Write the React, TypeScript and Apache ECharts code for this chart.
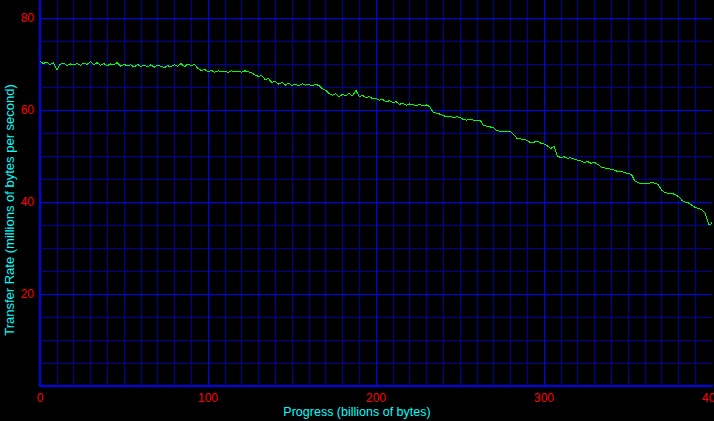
import React, { useEffect, useRef } from "react";
import * as echarts from "echarts";

const progress = [
  0, 2, 4, 6, 8, 10, 12, 14, 16, 18, 20, 22, 24, 26, 28, 30, 32, 34, 36, 38,
  40, 42, 44, 46, 48, 50, 52, 54, 56, 58, 60, 62, 64, 66, 68, 70, 72, 74, 76, 78,
  80, 82, 84, 86, 88, 90, 92, 94, 96, 98, 100, 102, 104, 106, 108, 110, 112, 114, 116, 118,
  120, 122, 124, 126, 128, 130, 132, 134, 136, 138, 140, 142, 144, 146, 148, 150, 152, 154, 156, 158,
  160, 162, 164, 166, 168, 170, 172, 174, 176, 178, 180, 182, 184, 186, 188, 190, 192, 194, 196, 198,
  200, 202, 204, 206, 208, 210, 212, 214, 216, 218, 220, 222, 224, 226, 228, 230, 232, 234, 236, 238,
  240, 242, 244, 246, 248, 250, 252, 254, 256, 258, 260, 262, 264, 266, 268, 270, 272, 274, 276, 278,
  280, 282, 284, 286, 288, 290, 292, 294, 296, 298, 300, 302, 304, 306, 308, 310, 312, 314, 316, 318,
  320, 322, 324, 326, 328, 330, 332, 334, 336, 338, 340, 342, 344, 346, 348, 350, 352, 354, 356, 358,
  360, 362, 364, 366, 368, 370, 372, 374, 376, 378, 380, 382, 384, 386, 388, 390, 392, 394, 396, 397,
  398, 399, 400,
];

const transferRate = [
  70.5, 70.1, 70.4, 69.8, 70.3, 68.7, 69.9, 70.2, 69.6, 70.0, 69.8, 70.1, 69.7, 70.2, 69.9, 70.5, 69.8, 70.3, 69.7, 70.1,
  69.6, 70.0, 69.8, 70.3, 69.5, 69.9, 69.6, 69.8, 69.3, 69.9, 69.5, 69.7, 69.4, 69.8, 69.3, 69.7, 69.5, 69.2, 69.6, 69.4,
  69.8, 69.5, 70.1, 69.4, 70.0, 69.6, 69.9, 69.0, 68.6, 68.8, 68.3, 68.6, 68.2, 68.5, 68.3, 68.4, 68.2, 68.5, 68.3, 68.4,
  68.2, 68.5, 68.3, 68.1, 67.6, 67.3, 67.5, 66.6, 66.8, 66.0, 66.2, 65.6, 66.0, 65.4, 65.8, 65.3, 65.6, 65.2, 65.7, 65.4,
  65.5, 65.2, 65.6, 65.3, 64.6, 64.3, 63.6, 63.2, 63.5, 62.9, 63.4, 63.1, 63.6, 63.0, 64.3, 62.9, 63.2, 62.6, 63.0, 62.4,
  62.5, 62.1, 62.3, 61.8, 62.0, 61.6, 61.8, 61.2, 61.5, 61.0, 61.3, 61.1, 61.0, 61.2, 60.9, 61.1, 60.7, 59.5, 59.3, 59.1,
  58.8, 58.5, 58.6, 58.4, 58.5, 58.4, 57.9, 57.8, 57.9, 57.8, 57.7, 57.8, 56.6, 56.5, 56.3, 56.2, 55.5, 55.4, 55.4, 55.4,
  55.3, 54.6, 53.8, 53.7, 53.6, 53.4, 52.9, 53.0, 53.2, 52.8, 52.6, 52.2, 51.6, 52.1, 49.9, 49.7, 49.8, 49.5, 49.6, 49.3,
  49.1, 48.9, 48.6, 48.8, 48.4, 48.6, 48.2, 47.6, 47.4, 47.3, 47.1, 46.9, 46.6, 46.7, 46.4, 46.2, 46.0, 44.6, 44.2, 44.0,
  44.1, 44.0, 44.2, 44.1, 43.8, 42.6, 42.0, 41.9, 41.9, 41.6, 41.2, 40.4, 40.0, 39.8, 39.3, 38.8, 38.6, 38.3, 37.5, 36.4,
  35.2, 35.0, 35.7,
];

const xTicks = [0, 100, 200, 300, 400];
const yTicks = [20, 40, 60, 80];

const xMajorGrid = [100, 200, 300];
const xMinorGrid = [
  10, 20, 30, 40, 50, 60, 70, 80, 90, 110, 120, 130, 140, 150, 160, 170, 180, 190,
  210, 220, 230, 240, 250, 260, 270, 280, 290, 310, 320, 330, 340, 350, 360, 370, 380, 390,
];
const yMajorGrid = [20, 40, 60, 80];
const yMinorGrid = [5, 10, 15, 25, 30, 35, 45, 50, 55, 65, 70, 75];

const xTitle = "Progress (billions of bytes)";
const yTitle = "Transfer Rate (millions of bytes per second)";

const MAJOR = "#0000ff";
const MINOR = "#0000a0";
const FONT = "Liberation Sans";

export default function App() {
  const ref = useRef<HTMLDivElement>(null);

  useEffect(() => {
    document.body.style.margin = "0";
    const styleEl = document.createElement("style");
    styleEl.textContent = ".crisp svg path, .crisp svg line { shape-rendering: crispEdges; }";
    document.head.appendChild(styleEl);
    const chart = echarts.init(ref.current!, null, { renderer: "svg" });
    const yMax = 83.9;
    const gridLine = (color: string) => ({ color, width: 1, type: "solid" as const, opacity: 1 });
    const markData = [
      ...xMinorGrid.map((v) => ({ xAxis: v, lineStyle: gridLine(MINOR) })),
      ...yMinorGrid.map((v) => ({ yAxis: v, lineStyle: gridLine(MINOR) })),
      ...xMajorGrid.map((v) => ({ xAxis: v, lineStyle: gridLine(MAJOR) })),
      ...yMajorGrid.map((v) => ({ yAxis: v, lineStyle: gridLine(MAJOR) })),
    ];
    chart.setOption({
      animation: false,
      backgroundColor: "#000000",
      grid: {
        left: 40,
        right: 2,
        top: 0,
        bottom: 35,
        containLabel: false,
        outerBoundsMode: "none",
      },
      xAxis: {
        type: "value",
        min: 0,
        max: 400,
        interval: 100,
        axisLine: { show: true, onZero: false, lineStyle: { color: MAJOR, width: 2 } },
        axisTick: { show: false },
        axisLabel: {
          show: true,
          color: "#ff0000",
          fontFamily: FONT,
          fontSize: 12,
          margin: 6,
          hideOverlap: false,
          showMinLabel: true,
          showMaxLabel: true,
          formatter: (v: number) => (xTicks.includes(v) ? String(v) : ""),
        },
        splitLine: { show: false },
        minorSplitLine: { show: false },
      },
      yAxis: {
        type: "value",
        min: 0,
        max: yMax,
        interval: 20,
        axisLine: { show: true, onZero: false, lineStyle: { color: MAJOR, width: 2 } },
        axisTick: { show: false },
        axisLabel: {
          show: true,
          color: "#ff0000",
          fontFamily: FONT,
          fontSize: 12,
          margin: 6,
          formatter: (v: number) => (yTicks.includes(v) ? String(v) : ""),
        },
        splitLine: { show: false },
        minorSplitLine: { show: false },
      },
      graphic: [
        {
          type: "text",
          x: 357,
          y: 412,
          style: {
            text: xTitle,
            fill: "#00ffff",
            font: `12.5px "${FONT}"`,
            textAlign: "center",
            textVerticalAlign: "middle",
          },
        },
        {
          type: "text",
          x: 9,
          y: 210,
          rotation: Math.PI / 2,
          style: {
            text: yTitle,
            fill: "#00ffff",
            font: `13px "${FONT}"`,
            textAlign: "center",
            textVerticalAlign: "middle",
          },
        },
      ],
      series: [
        {
          type: "line",
          name: "grid",
          data: [],
          z: 1,
          silent: true,
          markLine: {
            silent: true,
            symbol: ["none", "none"],
            label: { show: false },
            emphasis: { disabled: true },
            animation: false,
            data: markData,
          },
        },
        {
          type: "line",
          data: progress.map((p, i) => [p, transferRate[i]]),
          showSymbol: false,
          symbol: "none",
          lineStyle: { color: "#00ff00", width: 1 },
          z: 5,
        },
      ],
    });
    return () => {
      chart.dispose();
      styleEl.remove();
    };
  }, []);

  return (
    <div
      ref={ref}
      className="crisp"
      style={{ position: "fixed", left: 0, top: 0, width: 714, height: 421 }}
    />
  );
}
